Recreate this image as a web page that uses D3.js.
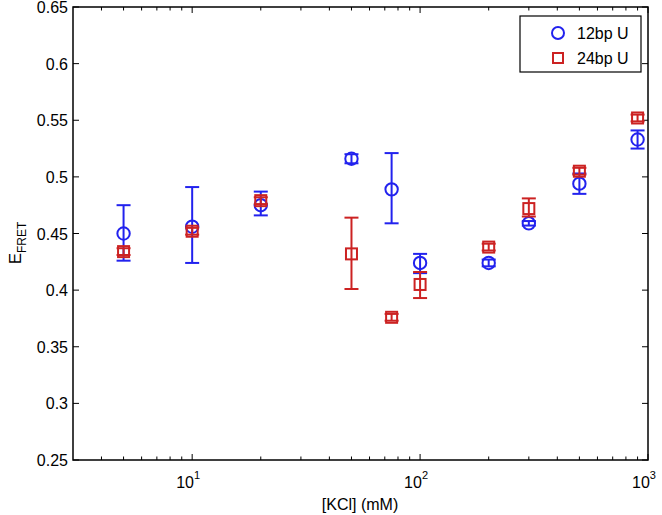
<!DOCTYPE html>
<html><head><meta charset="utf-8">
<script src="https://cdn.jsdelivr.net/npm/d3@7"></script>
<style>body{margin:0;background:#fff}svg{display:block;font-family:"Liberation Sans",Arial,sans-serif}</style>
</head><body><svg id="c" width="662" height="515"></svg>
<script>
const kcl = [5, 10, 20, 50, 75, 100, 200, 300, 500, 900];
const u12 = [0.450, 0.456, 0.475, 0.516, 0.489, 0.424, 0.424, 0.459, 0.494, 0.533];
const u12Lo = [0.426, 0.424, 0.466, 0.512, 0.459, 0.415, 0.421, 0.457, 0.485, 0.525];
const u12Hi = [0.475, 0.491, 0.487, 0.520, 0.521, 0.432, 0.427, 0.461, 0.503, 0.541];
const u24 = [0.434, 0.452, 0.479, 0.432, 0.376, 0.405, 0.438, 0.472, 0.505, 0.552];
const u24Lo = [0.431, 0.449, 0.476, 0.401, 0.373, 0.393, 0.435, 0.465, 0.502, 0.549];
const u24Hi = [0.437, 0.455, 0.482, 0.464, 0.379, 0.416, 0.441, 0.481, 0.508, 0.555];
const yTicks = [0.25, 0.3, 0.35, 0.4, 0.45, 0.5, 0.55, 0.6, 0.65];
const xMajor = [10, 100, 1000];
const xMinor = [4,5,6,7,8,9,20,30,40,50,60,70,80,90,200,300,400,500,600,700,800,900];
const seriesNames = ["12bp U", "24bp U"];
const blue = "#2222ee", red = "#cc2222";

const svg = d3.select("#c");
const L = 73, R = 648, T = 7, B = 460;
const x = d3.scaleLog().domain([3, 1000]).range([L, R]);
const y = d3.scaleLinear().domain([0.25, 0.65]).range([B, T]);

// ticks
const tg = svg.append("g").attr("stroke", "#000").attr("stroke-width", 1);
yTicks.forEach(v => {
  tg.append("line").attr("x1", L).attr("x2", L + 6).attr("y1", y(v)).attr("y2", y(v));
  tg.append("line").attr("x1", R).attr("x2", R - 6).attr("y1", y(v)).attr("y2", y(v));
});
xMajor.forEach(v => {
  tg.append("line").attr("x1", x(v)).attr("x2", x(v)).attr("y1", B).attr("y2", B - 6);
  tg.append("line").attr("x1", x(v)).attr("x2", x(v)).attr("y1", T).attr("y2", T + 6);
});
xMinor.forEach(v => {
  tg.append("line").attr("x1", x(v)).attr("x2", x(v)).attr("y1", B).attr("y2", B - 3.5);
  tg.append("line").attr("x1", x(v)).attr("x2", x(v)).attr("y1", T).attr("y2", T + 3.5);
});
svg.append("rect").attr("x", L).attr("y", T).attr("width", R - L).attr("height", B - T)
  .attr("fill", "none").attr("stroke", "#000").attr("stroke-width", 1.5);

// tick labels
yTicks.forEach(v => {
  svg.append("text").attr("x", L - 5).attr("y", y(v) + 6).attr("text-anchor", "end")
    .attr("font-size", 16).text(String(+v.toFixed(2)));
});
xMajor.forEach(v => {
  const t = svg.append("text").attr("x", x(v) - 4).attr("y", 488).attr("text-anchor", "middle").attr("font-size", 16);
  t.append("tspan").text("10");
  t.append("tspan").attr("dy", -9).attr("font-size", 11).text(String(Math.round(Math.log10(v))));
});
svg.append("text").attr("x", 360).attr("y", 510).attr("text-anchor", "middle").attr("font-size", 16).text("[KCl] (mM)");
const yl = svg.append("text").attr("transform", "translate(21,243) rotate(-90)").attr("text-anchor", "middle").attr("font-size", 17);
yl.append("tspan").text("E");
yl.append("tspan").attr("dy", 5).attr("font-size", 12).text("FRET");

function errbars(lo, hi, col) {
  const g = svg.append("g").attr("stroke", col).attr("stroke-width", 2).attr("fill", "none");
  kcl.forEach((k, i) => {
    const cx = x(k);
    g.append("line").attr("x1", cx).attr("x2", cx).attr("y1", y(lo[i])).attr("y2", y(hi[i]));
    [lo[i], hi[i]].forEach(v => g.append("line").attr("x1", cx - 7).attr("x2", cx + 7).attr("y1", y(v)).attr("y2", y(v)));
  });
  return g;
}
const gb = errbars(u12Lo, u12Hi, blue);
kcl.forEach((k, i) => gb.append("circle").attr("cx", x(k)).attr("cy", y(u12[i])).attr("r", 6.2));
const gr = errbars(u24Lo, u24Hi, red);
kcl.forEach((k, i) => gr.append("rect").attr("x", x(k) - 5.5).attr("y", y(u24[i]) - 5.5).attr("width", 11).attr("height", 11));

// legend
const lg = svg.append("g");
lg.append("rect").attr("x", 520).attr("y", 16).attr("width", 121).attr("height", 56)
  .attr("fill", "#fff").attr("stroke", "#000").attr("stroke-width", 1.2);
lg.append("circle").attr("cx", 558).attr("cy", 33).attr("r", 6).attr("fill", "none").attr("stroke", blue).attr("stroke-width", 2);
lg.append("rect").attr("x", 553).attr("y", 53).attr("width", 10).attr("height", 10).attr("fill", "none").attr("stroke", red).attr("stroke-width", 2);
seriesNames.forEach((n, i) => lg.append("text").attr("x", 577).attr("y", 39 + i * 25).attr("font-size", 16).text(n));
</script></body></html>
